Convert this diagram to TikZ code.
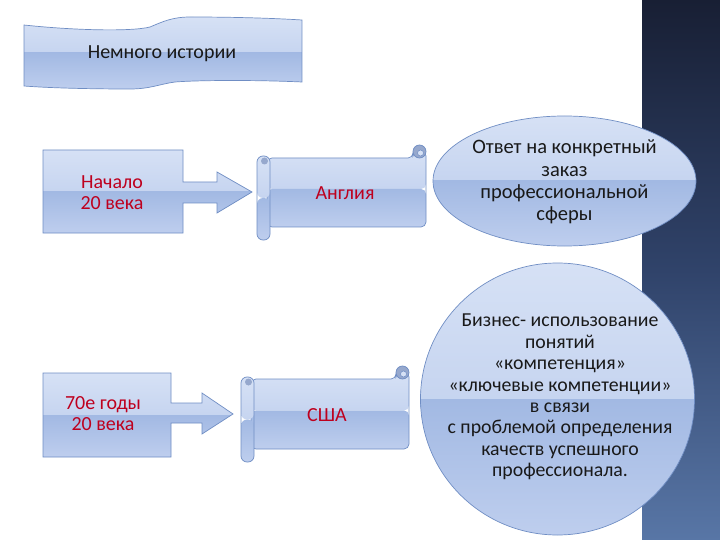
\documentclass[tikz,border=0pt]{standalone}
\usepackage{fontspec}
\setmainfont{Carlito}
\definecolor{gT}{RGB}{214,225,245}
\definecolor{gM1}{RGB}{182,200,235}
\definecolor{gM2}{RGB}{162,185,227}
\definecolor{gB}{RGB}{190,206,238}
\definecolor{bordc}{RGB}{112,142,196}
\definecolor{curlc}{RGB}{150,168,205}
\definecolor{txtred}{RGB}{190,0,30}
\definecolor{stripT}{RGB}{24,31,52}
\definecolor{stripM}{RGB}{48,67,106}
\definecolor{stripB}{RGB}{88,118,166}
\tikzset{
  gloss/.style={path picture={
    \shade[top color=gT, bottom color=gM1] (path picture bounding box.north west) rectangle (path picture bounding box.east);
    \shade[top color=gM2, bottom color=gB] (path picture bounding box.west) rectangle (path picture bounding box.south east);}},
  shapebox/.style={gloss, draw=bordc, line width=0.7pt},
  redtxt/.style={text=txtred, align=center, font=\fontsize{20}{21}\selectfont, inner sep=0pt},
  blacktxt/.style={text=black!90, align=center, inner sep=0pt}
}
\newcommand\myscroll[4]{%
  \path[shapebox, rounded corners=5pt]
    ({#1+10},{#2+13}) -- ({#3-13},{#2+13}) -- ({#3-13},{#2+6}) -- ({#3},{#2+6}) -- ({#3},{#4-13}) -- ({#1+10},{#4-13}) -- cycle;
  \path[draw=bordc, fill=curlc, line width=0.7pt] ({#3-6.5},{#2+6.5}) circle (6.5);
  \path[draw=bordc, fill=gT, line width=0.5pt] ({#3-5.5},{#2+8}) circle (3);
  \path[shapebox, rounded corners=6pt] ({#1},{#2+11}) rectangle ({#1+13},{#4});
  \path[fill=curlc] ({#1+7.5},{#2+16}) circle (3.5);
}
\begin{document}
\begin{tikzpicture}[x=1pt,y=-1pt]
\useasboundingbox (0,0) rectangle (720,540);
\fill[white] (0,0) rectangle (720,540);
% right strip
\shade[top color=stripT, bottom color=stripB, middle color=stripM] (642,0) rectangle (720,540);
% title banner
\path[shapebox] (24,25) .. controls (70,30) and (130,32) .. (150,27) .. controls (162,22) and (172,17) .. (190,17) .. controls (230,17) and (270,18) .. (302,20)
  -- (302,82) .. controls (260,80) and (200,80) .. (175,82) .. controls (160,84) and (150,89) .. (130,89) .. controls (90,89) and (50,88) .. (24,86) -- cycle;
\node[blacktxt, font=\fontsize{20}{24}\selectfont] (title) at (162,54) {Немного истории};
% box 1 with arrow
\path[shapebox] (43,150) -- (183,150) -- (183,182) -- (217,182) -- (217,172) -- (252,192) -- (217,213) -- (217,203) -- (183,203) -- (183,233) -- (43,233) -- cycle;
\node[redtxt] (b1) at (112,193) {Начало\\20 века};
% box 2 with arrow
\path[shapebox] (43,373) -- (171,373) -- (171,403) -- (202,403) -- (202,393) -- (233,414) -- (202,434) -- (202,423) -- (171,423) -- (171,457) -- (43,457) -- cycle;
\node[redtxt] (b2) at (103,414) {70е годы\\20 века};
% scrolls
\myscroll{257}{145}{426}{240}
\node[redtxt] (s1) at (345,193) {Англия};
\myscroll{241}{366}{409}{462}
\node[redtxt] (s2) at (327,415) {США};
% ellipse
\path[shapebox] (564.5,181) ellipse [x radius=131.5, y radius=65];
\node[blacktxt, font=\fontsize{20.5}{22.3}\selectfont] (e1) at (564.5,182) {Ответ на конкретный\\заказ\\профессиональной\\сферы};
% circle
\path[shapebox] (557.5,399) ellipse [x radius=137, y radius=136];
\node[blacktxt, font=\fontsize{19.8}{21.4}\selectfont] (c1) at (560,397) {Бизнес- использование\\понятий\\«компетенция»\\«ключевые компетенции»\\в связи\\с проблемой определения\\качеств успешного\\профессионала.};
\end{tikzpicture}
\end{document}
